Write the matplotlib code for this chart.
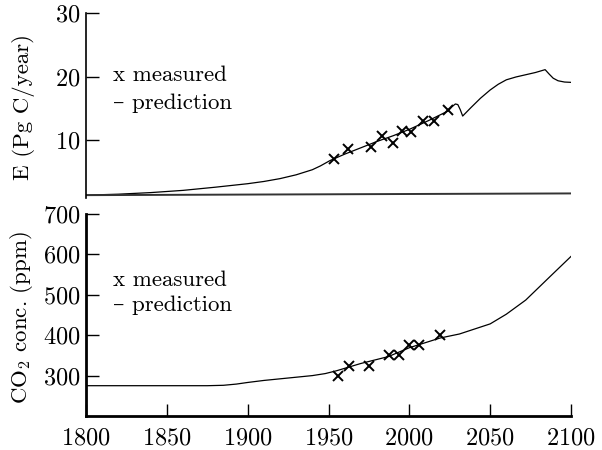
import matplotlib
matplotlib.use("Agg")
import matplotlib.pyplot as plt

plt.rcParams['font.family'] = ['cmr10', 'DejaVu Serif']
plt.rcParams['mathtext.fontset'] = 'cm'
plt.rcParams['axes.formatter.use_mathtext'] = True

# Emissions panel
e_years = [1800, 1820, 1840, 1860, 1880, 1900, 1910, 1920, 1930, 1940, 1945, 1951, 1960, 1970,
           1980, 1990, 2000, 2012, 2024, 2026.5, 2028.5, 2030, 2031.5, 2033, 2038, 2044, 2050,
           2055, 2060, 2066, 2072, 2078, 2084, 2086.5, 2089, 2092, 2096, 2100]
e_pred = [1.35, 1.5, 1.75, 2.1, 2.6, 3.15, 3.5, 3.95, 4.55, 5.35, 5.95, 6.8, 7.8, 8.8,
          9.8, 10.7, 11.7, 13.1, 14.6, 15.3, 15.7, 15.6, 14.8, 13.8, 15.1, 16.6, 17.9,
          18.8, 19.5, 19.95, 20.3, 20.65, 21.1, 20.4, 19.75, 19.35, 19.15, 19.1]
e_meas_years = [1953.4, 1962.2, 1976.1, 1983.3, 1989.7, 1995.3, 2000.8, 2008.3, 2015.4, 2024.1]
e_meas = [7.0, 8.6, 8.9, 10.65, 9.5, 11.4, 11.3, 12.95, 13.05, 14.7]
base_years = [1800, 2100]
base_vals = [1.35, 1.62]

# CO2 panel
c_years = [1800, 1875, 1885, 1893, 1900, 1910, 1920, 1930, 1940, 1948, 1955, 1970, 1987, 2000,
           2019, 2031, 2050, 2060, 2072, 2087, 2100]
c_pred = [275, 275, 276, 279, 283, 288, 292, 296, 300, 305, 312, 330, 347, 369,
          393, 403, 428, 452, 487, 545, 595]
c_meas_years = [1956.1, 1962.7, 1975.1, 1987.4, 1993.6, 2000.0, 2006.2, 2019.0]
c_meas = [300, 325, 325, 350, 350, 375, 375, 400]

x_ticks = [1800, 1850, 1900, 1950, 2000, 2050, 2100]

fig = plt.figure(figsize=(6.02, 4.5), dpi=100)
ax1 = fig.add_axes([86/602, 1-198/450, 485/602, 184.9/450])
ax2 = fig.add_axes([86/602, 1-416/450, 485/602, 202/450])

fs = 16.5
tfs = 17.5
for ax in (ax1, ax2):
    ax.set_xlim(1800, 2100)
    for s in ('top', 'right'):
        ax.spines[s].set_visible(False)
    ax.tick_params(direction='in', length=9, labelsize=tfs, width=1.0, pad=4)

# top
ax1.plot(e_years, e_pred, color='black', lw=0.9)
ax1.plot(base_years, base_vals, color='#333333', lw=1.4)
ax1.plot(e_meas_years, e_meas, 'x', color='black', ms=6.5, mew=1.4)
ax1.set_ylim(0.9, 30)
ax1.set_yticks([10, 20, 30])
ax1.spines['bottom'].set_visible(False)
ax1.spines['left'].set_linewidth(1.2)
ax1.tick_params(axis='x', bottom=False, labelbottom=False)
ax1.set_ylabel('E (Pg C/year)', fontsize=fs)
ax1.yaxis.set_label_coords(-0.105, 0.49)
ax1.text(0.0557, 0.665, 'x measured', transform=ax1.transAxes, fontsize=fs, va='center')
ax1.text(0.0557, 0.514, '– prediction', transform=ax1.transAxes, fontsize=fs, va='center')

# bottom
ax2.plot(c_years, c_pred, color='black', lw=0.9)
ax2.plot(c_meas_years, c_meas, 'x', color='black', ms=6.5, mew=1.4)
ax2.set_ylim(200, 700)
ax2.set_yticks([300, 400, 500, 600, 700])
ax2.set_xticks(x_ticks)
ax2.tick_params(axis='x', pad=8)
ax2.spines['left'].set_linewidth(2)
ax2.spines['bottom'].set_linewidth(2)
ax2.set_ylabel(r'CO$_2$ conc. (ppm)', fontsize=fs)
ax2.yaxis.set_label_coords(-0.105, 0.49)
ax2.text(0.0557, 0.67, 'x measured', transform=ax2.transAxes, fontsize=fs, va='center')
ax2.text(0.0557, 0.55, '– prediction', transform=ax2.transAxes, fontsize=fs, va='center')

fig.savefig('out.png', dpi=100)
